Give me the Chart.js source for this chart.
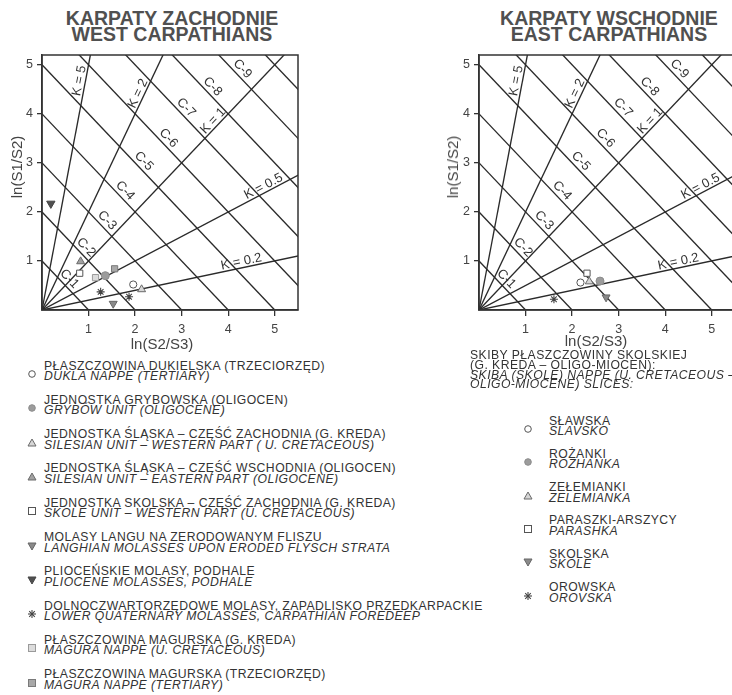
<!DOCTYPE html>
<html><head><meta charset="utf-8">
<script src="https://cdn.jsdelivr.net/npm/chart.js@4.4.1/dist/chart.umd.min.js"></script>
<style>
html,body{margin:0;padding:0;background:#fff;}
body{width:732px;height:695px;overflow:hidden;position:relative;font-family:"Liberation Sans",Arial,sans-serif;}
.title{position:absolute;top:11px;width:300px;text-align:center;font-weight:bold;font-size:19.5px;line-height:15.5px;color:#505050;}
.cv{position:absolute;top:0;}
.alab{position:absolute;font-size:15px;line-height:16px;color:#444;white-space:nowrap;transform:translate(-50%,-50%);}
.alab.rot{transform:translate(-50%,-50%) rotate(-90deg);}
.txt{position:absolute;font-size:12.2px;letter-spacing:0.45px;line-height:10.6px;color:#333;white-space:nowrap;}
.txt i{font-style:italic;}
.mk{position:absolute;}
</style>
</head><body>
<div class="title" style="left:22px">KARPATY ZACHODNIE<br>WEST CARPATHIANS</div>
<div class="title" style="left:459px">KARPATY WSCHODNIE<br>EAST CARPATHIANS</div>
<canvas id="cw" class="cv" width="366" height="355" style="left:0;width:366px;height:355px"></canvas>
<canvas id="ce" class="cv" width="400" height="355" style="left:366px;width:400px;height:355px"></canvas>
<div class="alab rot" style="left:17px;top:167px">ln(S1/S2)</div>
<div class="alab rot" style="left:453px;top:167px">ln(S1/S2)</div>
<div class="alab" style="left:162px;top:344px">ln(S2/S3)</div>
<div class="alab" style="left:596px;top:341px">ln(S2/S3)</div>
<div id="legW"></div>
<div id="legE"></div>
<script>
// ---------- data ----------
const xTicks = [1, 2, 3, 4, 5];
const yTicks = [1, 2, 3, 4, 5];
const cValues = [1, 2, 3, 4, 5, 6, 7, 8, 9, 10];
const cLabels = ['C-1','C-2','C-3','C-4','C-5','C-6','C-7','C-8','C-9'];
const kValues = [5, 2, 1, 0.5, 0.2];
const kLabels = ['K = 5','K = 2','K = 1','K = 0.5','K = 0.2'];

// West Carpathians
const westDukla      = [{x:1.96, y:0.52}];
const westGrybow     = [{x:1.36, y:0.70}];
const westSilesianW  = [{x:2.14, y:0.42}];
const westSilesianE  = [{x:0.83, y:0.99}];
const westSkoleW     = [{x:0.81, y:0.75}];
const westLanghian   = [{x:1.53, y:0.13}];
const westPliocene   = [{x:0.19, y:2.17}];
const westQuaternary = [{x:1.26, y:0.37}, {x:1.87, y:0.27}];
const westMaguraK    = [{x:1.15, y:0.66}];
const westMaguraT    = [{x:1.56, y:0.84}];
// East Carpathians
const eastSlavsko    = [{x:2.18, y:0.56}];
const eastRozhanka   = [{x:2.60, y:0.59}];
const eastZelemianka = [{x:2.37, y:0.58}];
const eastParashka   = [{x:2.32, y:0.75}];
const eastSkole      = [{x:2.73, y:0.26}];
const eastOrovska    = [{x:1.61, y:0.22}];

const legendWest = [
  ['openCircle','PŁASZCZOWINA DUKIELSKA (TRZECIORZĘD)','DUKLA NAPPE (TERTIARY)'],
  ['grayCircle','JEDNOSTKA GRYBOWSKA (OLIGOCEN)','GRYBÓW UNIT (OLIGOCENE)'],
  ['lightTri','JEDNOSTKA ŚLĄSKA – CZĘŚĆ ZACHODNIA (G. KREDA)','SILESIAN UNIT – WESTERN PART ( U. CRETACEOUS)'],
  ['grayTri','JEDNOSTKA ŚLĄSKA – CZĘŚĆ WSCHODNIA (OLIGOCEN)','SILESIAN UNIT – EASTERN PART (OLIGOCENE)'],
  ['openSquare','JEDNOSTKA SKOLSKA – CZĘŚĆ ZACHODNIA (G. KREDA)','SKOLE UNIT – WESTERN PART (U. CRETACEOUS)'],
  ['grayInv','MOLASY LANGU NA ZERODOWANYM FLISZU','LANGHIAN MOLASSES UPON ERODED FLYSCH STRATA'],
  ['darkInv','PLIOCEŃSKIE MOLASY, PODHALE','PLIOCENE MOLASSES, PODHALE'],
  ['star','DOLNOCZWARTORZĘDOWE MOLASY, ZAPADLISKO PRZEDKARPACKIE','LOWER QUATERNARY MOLASSES, CARPATHIAN FOREDEEP'],
  ['lightSquare','PŁASZCZOWINA MAGURSKA (G. KREDA)','MAGURA NAPPE (U. CRETACEOUS)'],
  ['graySquare','PŁASZCZOWINA MAGURSKA (TRZECIORZĘD)','MAGURA NAPPE (TERTIARY)']
];
const legendEastHeader = ['SKIBY PŁASZCZOWINY SKOLSKIEJ','(G. KREDA – OLIGO-MIOCEN):','SKIBA (SKOLE) NAPPE (U. CRETACEOUS –','OLIGO-MIOCENE) SLICES:'];
const legendEast = [
  ['openCircle','SŁAWSKA','SLAVSKO'],
  ['grayCircle','ROŻANKI','ROZHANKA'],
  ['lightTri','ZEŁEMIANKI','ZELEMIANKA'],
  ['openSquare','PARASZKI-ARSZYCY','PARASHKA'],
  ['grayInv','SKOLSKA','SKOLE'],
  ['star','OROWSKA','OROVSKA']
];

// ---------- styles ----------
const LINE = '#2a2a2a';
const sty = {
  openCircle: {pointStyle:'circle', radius:3.6, bg:'#ffffff', bc:'#555', bw:1, rot:0},
  grayCircle: {pointStyle:'circle', radius:4, bg:'#9c9c9c', bc:'#8c8c8c', bw:1, rot:0},
  lightTri:   {pointStyle:'triangle', radius:4.6, bg:'#d6d6d6', bc:'#6a6a6a', bw:1, rot:0},
  grayTri:    {pointStyle:'triangle', radius:4.6, bg:'#a2a2a2', bc:'#6a6a6a', bw:1, rot:0},
  openSquare: {pointStyle:'rect', radius:4.4, bg:'#ffffff', bc:'#555', bw:1, rot:0},
  grayInv:    {pointStyle:'triangle', radius:4.6, bg:'#8a8a8a', bc:'#666', bw:1, rot:180},
  darkInv:    {pointStyle:'triangle', radius:4.8, bg:'#505050', bc:'#444', bw:1, rot:180},
  star:       {pointStyle:'star', radius:4, bg:'#444', bc:'#444', bw:1.1, rot:0},
  lightSquare:{pointStyle:'rect', radius:4.4, bg:'#dcdcdc', bc:'#9a9a9a', bw:1, rot:0},
  graySquare: {pointStyle:'rect', radius:4.4, bg:'#a8a8a8', bc:'#7a7a7a', bw:1, rot:0}
};
const cLabelAt = [0.47, 0.83, 1.28, 1.67, 2.07, 2.6, 2.98, 3.55, 4.19];
const kLabelAt = [0.93, 2.18, 3.77, 4.82, 4.31];

function pointDs(data, key){
  const s = sty[key];
  return {data, showLine:false, pointStyle:s.pointStyle, pointRadius:s.radius, pointHoverRadius:s.radius,
    pointBackgroundColor:s.bg, pointBorderColor:s.bc, pointBorderWidth:s.bw, pointRotation:s.rot, order:0, clip:false};
}
function refLines(){
  const ds = [];
  cValues.forEach(c => ds.push({data:[{x:0,y:c},{x:c,y:0}], showLine:true, pointRadius:0,
    borderColor:LINE, borderWidth:1.35, order:5, clip:0}));
  kValues.forEach(k => ds.push({data:[{x:0,y:0},{x:8,y:8*k}], showLine:true, pointRadius:0,
    borderColor:LINE, borderWidth:1.35, order:5, clip:0}));
  return ds;
}

const framePlugin = {
  id:'frame',
  afterDatasetsDraw(chart){
    const {ctx, chartArea:a, scales:{x,y}} = chart;
    ctx.save();
    ctx.strokeStyle = '#333'; ctx.lineWidth = 1.5;
    ctx.strokeRect(a.left, a.top, a.right-a.left, a.bottom-a.top);
    ctx.beginPath(); ctx.rect(a.left, a.top, a.right-a.left, a.bottom-a.top); ctx.clip();
    ctx.font = '13px "Liberation Sans", Arial, sans-serif';
    ctx.fillStyle = '#333'; ctx.textAlign = 'center'; ctx.textBaseline = 'middle';
    cLabels.forEach((t,i) => {
      const c = cValues[i];
      const th = Math.atan2(y.getPixelForValue(0)-y.getPixelForValue(c), x.getPixelForValue(c)-x.getPixelForValue(0));
      const ax = cLabelAt[i];
      ctx.save(); ctx.translate(x.getPixelForValue(ax), y.getPixelForValue(c-ax)); ctx.rotate(th);
      ctx.fillText(t, 0, -7.5); ctx.restore();
    });
    kLabels.forEach((t,i) => {
      const k = kValues[i];
      const th = Math.atan2(y.getPixelForValue(k)-y.getPixelForValue(0), x.getPixelForValue(1)-x.getPixelForValue(0));
      const ax = kLabelAt[i];
      ctx.save(); ctx.translate(x.getPixelForValue(ax), y.getPixelForValue(k*ax)); ctx.rotate(th);
      ctx.fillText(t, 0, -6); ctx.restore();
    });
    ctx.restore();
  }
};

function makeChart(id, pts, pad){
  const tickFont = {size:12.5, family:'"Liberation Sans", Arial, sans-serif'};
  return new Chart(document.getElementById(id), {
    type:'scatter',
    data:{datasets: pts.concat(refLines())},
    options:{
      responsive:false, animation:false, devicePixelRatio:1,
      layout:{padding:pad},
      plugins:{legend:{display:false}, tooltip:{enabled:false}},
      events:[],
      scales:{
        x:{type:'linear', min:0, max:5.5,
          afterBuildTicks:s => { s.ticks = xTicks.map(v => ({value:v})); },
          afterFit:s => { s.height = 30; },
          grid:{drawOnChartArea:false, drawTicks:true, tickLength:6, color:'#333', lineWidth:1.3},
          border:{display:true, color:'#333', width:1.5},
          ticks:{color:'#444', font:tickFont, padding:6, maxRotation:0, autoSkip:false}},
        y:{type:'linear', min:0, max:5.2,
          afterBuildTicks:s => { s.ticks = yTicks.map(v => ({value:v})); },
          afterFit:s => { s.width = 30; },
          grid:{drawOnChartArea:false, drawTicks:true, tickLength:5, color:'#333', lineWidth:1.3},
          border:{display:true, color:'#333', width:1.5},
          ticks:{color:'#444', font:tickFont, padding:4, autoSkip:false}}
      }
    },
    plugins:[framePlugin]
  });
}

makeChart('cw', [
  pointDs(westDukla,'openCircle'), pointDs(westGrybow,'grayCircle'), pointDs(westSilesianW,'lightTri'),
  pointDs(westSilesianE,'grayTri'), pointDs(westSkoleW,'openSquare'), pointDs(westLanghian,'grayInv'),
  pointDs(westPliocene,'darkInv'), pointDs(westQuaternary,'star'), pointDs(westMaguraK,'lightSquare'),
  pointDs(westMaguraT,'graySquare')
], {left:12, top:55, right:68, bottom:15});
makeChart('ce', [
  pointDs(eastSlavsko,'openCircle'), pointDs(eastRozhanka,'grayCircle'), pointDs(eastZelemianka,'lightTri'),
  pointDs(eastParashka,'openSquare'), pointDs(eastSkole,'grayInv'), pointDs(eastOrovska,'star')
], {left:83, top:55, right:31, bottom:15});

// ---------- legend (HTML) ----------
function markerSvg(key){
  const s = sty[key];
  const a = `fill="${s.bg}" stroke="${s.bc}" stroke-width="1"`;
  let sh = '';
  if (key==='openCircle' || key==='grayCircle') sh = `<circle cx="6" cy="6" r="3.3" ${a}/>`;
  else if (key==='lightTri' || key==='grayTri') sh = `<polygon points="6,2 10,9 2,9" ${a}/>`;
  else if (key==='grayInv' || key==='darkInv') sh = `<polygon points="2,3 10,3 6,10" ${a}/>`;
  else if (key==='star') sh = `<g stroke="#444" stroke-width="1.1"><line x1="2" y1="6" x2="10" y2="6"/><line x1="6" y1="2" x2="6" y2="10"/><line x1="3.2" y1="3.2" x2="8.8" y2="8.8"/><line x1="3.2" y1="8.8" x2="8.8" y2="3.2"/></g>`;
  else sh = `<rect x="2.5" y="2.5" width="7" height="7" ${a}/>`;
  return `<svg width="12" height="12" viewBox="0 0 12 12">${sh}</svg>`;
}
let h = '';
legendWest.forEach((it,i) => {
  const top = 360.5 + 34.3*i;
  h += `<div class="mk" style="left:26px;top:${(top+5.5).toFixed(1)}px">${markerSvg(it[0])}</div>`;
  h += `<div class="txt" style="left:44px;top:${top.toFixed(1)}px">${it[1]}<br><i>${it[2]}</i></div>`;
});
document.getElementById('legW').innerHTML = h;
h = `<div class="txt" style="left:470px;top:351px;line-height:9.8px">${legendEastHeader[0]}<br>${legendEastHeader[1]}<br><i>${legendEastHeader[2]}<br>${legendEastHeader[3]}</i></div>`;
legendEast.forEach((it,i) => {
  const top = 415.5 + 33.3*i;
  h += `<div class="mk" style="left:522px;top:${(top+5.5).toFixed(1)}px">${markerSvg(it[0])}</div>`;
  h += `<div class="txt" style="left:549px;top:${top.toFixed(1)}px">${it[1]}<br><i>${it[2]}</i></div>`;
});
document.getElementById('legE').innerHTML = h;
</script>
</body></html>
